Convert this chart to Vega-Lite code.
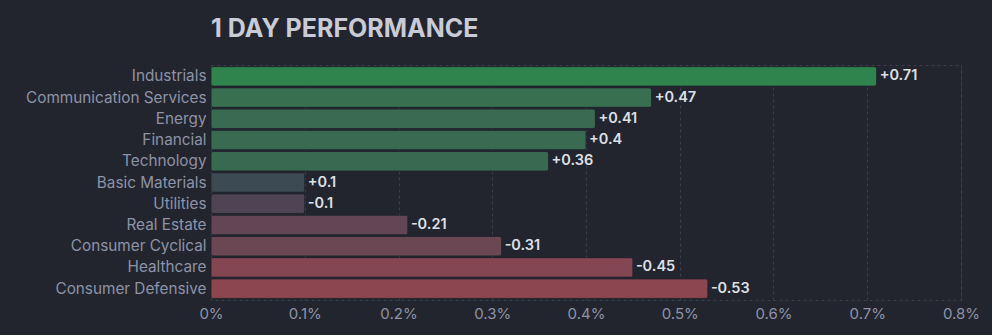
{
  "$schema": "https://vega.github.io/schema/vega-lite/v6.json",
  "autosize": {"type": "none"},
  "padding": {"left": 211, "top": 65, "right": 31, "bottom": 35},
  "width": 750,
  "height": 235,
  "background": "#22252e",
  "title": {
    "text": "1 DAY PERFORMANCE",
    "anchor": "start",
    "frame": "group",
    "font": "Inter",
    "fontSize": 25,
    "fontWeight": "bold",
    "color": "#c9cbd6",
    "offset": 23
  },
  "config": {
    "font": "Inter",
    "view": {"stroke": "#3a3e4a", "strokeDash": [3, 3], "strokeWidth": 1}
  },
  "data": {
    "values": [
      {"sector": "Industrials", "change": 0.71},
      {"sector": "Communication Services", "change": 0.47},
      {"sector": "Energy", "change": 0.41},
      {"sector": "Financial", "change": 0.4},
      {"sector": "Technology", "change": 0.36},
      {"sector": "Basic Materials", "change": 0.1},
      {"sector": "Utilities", "change": -0.1},
      {"sector": "Real Estate", "change": -0.21},
      {"sector": "Consumer Cyclical", "change": -0.31},
      {"sector": "Healthcare", "change": -0.45},
      {"sector": "Consumer Defensive", "change": -0.53}
    ]
  },
  "transform": [
    {"calculate": "abs(datum.change)", "as": "magnitude"},
    {"calculate": "(datum.change > 0 ? '+' : '') + datum.change", "as": "label"}
  ],
  "encoding": {
    "y": {
      "field": "sector",
      "type": "nominal",
      "sort": null,
      "title": null,
      "scale": {"paddingInner": 0.08, "paddingOuter": 0.075},
      "axis": {
        "domain": false,
        "ticks": false,
        "labelPadding": 5,
        "labelLimit": 300,
        "labelFont": "Inter",
        "labelFontSize": 15.3,
        "labelColor": "#8e93a7",
        "grid": false
      }
    },
    "x": {
      "field": "magnitude",
      "type": "quantitative",
      "title": null,
      "scale": {"domain": [0, 0.8], "nice": false},
      "axis": {
        "values": [0, 0.1, 0.2, 0.3, 0.4, 0.5, 0.6, 0.7, 0.8],
        "labelExpr": "format(datum.value, '.1~f') + '%'",
        "labelFlush": false,
        "labelBound": false,
        "domain": false,
        "ticks": false,
        "labelPadding": 6,
        "labelFont": "Inter",
        "labelFontSize": 15,
        "labelColor": "#8e93a7",
        "grid": true,
        "gridColor": "#3a3e4a",
        "gridDash": [3, 3],
        "gridWidth": 1
      }
    }
  },
  "layer": [
    {
      "mark": {"type": "bar", "cornerRadius": 2.5, "stroke": "#22252e", "strokeWidth": 0.5},
      "encoding": {
        "color": {
          "field": "sector",
          "type": "nominal",
          "legend": null,
          "scale": {
            "domain": ["Industrials", "Communication Services", "Energy", "Financial", "Technology", "Basic Materials", "Utilities", "Real Estate", "Consumer Cyclical", "Healthcare", "Consumer Defensive"],
            "range": ["#2f834d", "#376f50", "#386b51", "#386b51", "#386a51", "#3c4a53", "#4f4454", "#624656", "#6b4653", "#844652", "#8c4650"]
          }
        }
      }
    },
    {
      "mark": {"type": "text", "align": "left", "baseline": "middle", "dx": 3, "font": "Inter", "fontSize": 14.5, "fontWeight": 600, "color": "#dfe0e6"},
      "encoding": {"text": {"field": "label"}}
    }
  ]
}
